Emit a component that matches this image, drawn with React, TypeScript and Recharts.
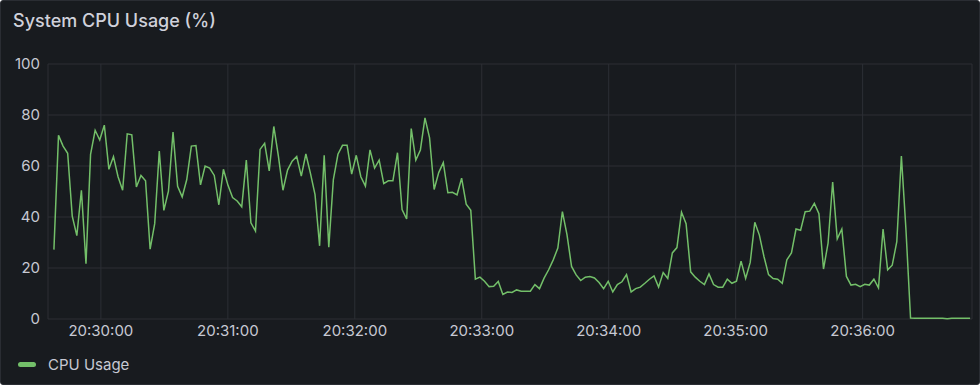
import { CartesianGrid, Line, LineChart, XAxis, YAxis } from 'recharts'

// sample times are seconds of day; first sample ~20:29:37.8, one every ~2.165s
const START = 73777.8
const STEP = 2.165

const cpuUsage = [
  27.2, 72, 67.8, 65, 40.3, 32.7, 50.5, 21.7, 64.6, 74,
  70.2, 76, 58.7, 63.7, 55.8, 50.5, 72.6, 72.2, 51.8, 56.3,
  54.2, 27.4, 37.4, 65.9, 42.6, 50.1, 73.3, 52, 47.9, 54.7,
  67.8, 68, 52.6, 60, 59.2, 56.3, 44.8, 58.7, 52.4, 47.6,
  46.3, 44, 62.3, 37.7, 34.5, 66.5, 68.9, 58.1, 75.5, 63.9,
  50.5, 58.4, 61.9, 63.7, 56, 64.7, 57.1, 48.8, 28.7, 64.2,
  28.2, 54.7, 64.6, 68.1, 68.1, 56.8, 64.2, 55.8, 52.1, 66.3,
  59.2, 62.3, 53.1, 54.2, 54.2, 65.2, 42.9, 39.2, 74.7, 62.3,
  66.3, 78.9, 71, 50.8, 57.4, 61.3, 49.5, 49.7, 48.7, 55.2,
  45, 42.6, 15.6, 16.4, 14.8, 12.7, 12.8, 14.7, 9.6, 10.6,
  10.4, 11.4, 10.9, 10.9, 10.9, 13.5, 11.9, 16, 19.3, 23.2,
  27.8, 42.1, 33.1, 20.6, 17.3, 15.1, 16.4, 16.7, 16.1, 14.3,
  11.9, 14.8, 10.6, 13.5, 14.6, 17.4, 10.6, 11.9, 12.5, 14,
  15.6, 16.9, 12.5, 18.2, 15.9, 25.9, 28, 41.9, 37.4, 18.5,
  16.4, 14.8, 13.5, 17.7, 13.5, 12.5, 12.5, 15.6, 14, 14.8,
  22.7, 15.9, 22.2, 37.9, 32.9, 24.5, 17.4, 15.9, 15.6, 14,
  23.2, 25.9, 35.3, 34.8, 42.1, 42.3, 45.3, 41.3, 19.6, 29.8,
  53.7, 31.4, 35.3, 16.7, 13.3, 13.6, 12.7, 13.6, 13.3, 15.6,
  12.2, 35.3, 19.3, 21.1, 30.3, 63.9, 35, 0.4, 0.3, 0.3,
  0.3, 0.3, 0.3, 0.3, 0.3, 0.1, 0.3, 0.3, 0.3, 0.3,
  0.3,
]

const xTickLabels = [
  '20:30:00', '20:31:00', '20:32:00', '20:33:00', '20:34:00', '20:35:00', '20:36:00',
]
const yTicks = [0, 20, 40, 60, 80, 100]

const toSec = (s: string) => {
  const [h, m, sec] = s.split(':').map(Number)
  return h * 3600 + m * 60 + sec
}
const pad = (n: number) => String(n).padStart(2, '0')
const fmtTime = (v: number) => {
  const t = Math.round(v)
  return `${pad(Math.floor(t / 3600))}:${pad(Math.floor((t % 3600) / 60))}:${pad(t % 60)}`
}

const data = cpuUsage.map((v, i) => ({ time: START + i * STEP, cpu: v }))
const xTicks = xTickLabels.map(toSec)

const FONT = 'Inter, "Noto Sans", sans-serif'
const TEXT = '#c7c9d3'

export default function App() {
  return (
    <div
      style={{
        position: 'fixed',
        left: 0,
        top: 0,
        width: 980,
        height: 385,
        background: '#181b1f',
        boxSizing: 'border-box',
        border: '1px solid #2a2d33',
        borderRadius: 3,
        fontFamily: FONT,
        overflow: 'hidden',
      }}
    >
      <div
        style={{
          position: 'absolute',
          left: 12,
          top: 9,
          fontSize: 18,
          fontWeight: 500,
          color: '#d0d1db',
        }}
      >
        System CPU Usage (%)
      </div>
      <div style={{ position: 'absolute', left: -1, top: -1 }}>
        <LineChart
          width={980}
          height={385}
          data={data}
          margin={{ top: 64, right: 8, left: 0, bottom: 36 }}
        >
          <CartesianGrid stroke="#2c2f35" strokeWidth={1} />
          <XAxis
            dataKey="time"
            type="number"
            domain={[73775, 74211.7]}
            ticks={xTicks}
            tickFormatter={fmtTime}
            axisLine={false}
            tickLine={false}
            tickSize={0}
            tickMargin={6}
            height={30}
            tick={{ fill: TEXT, fontSize: 15, fontFamily: FONT }}
          />
          <YAxis
            type="number"
            domain={[0, 100]}
            ticks={yTicks}
            axisLine={false}
            tickLine={false}
            tickSize={0}
            tickMargin={8}
            width={48}
            tick={{ fill: TEXT, fontSize: 15, fontFamily: FONT }}
          />
          <Line
            type="linear"
            dataKey="cpu"
            stroke="#73bf69"
            strokeWidth={1.5}
            dot={false}
            isAnimationActive={false}
          />
        </LineChart>
      </div>
      <div
        style={{
          position: 'absolute',
          left: 17,
          top: 354,
          display: 'flex',
          alignItems: 'center',
          fontSize: 15,
          color: TEXT,
        }}
      >
        <span
          style={{
            display: 'inline-block',
            width: 18,
            height: 5,
            borderRadius: 3,
            background: '#73bf69',
            marginRight: 12,
          }}
        />
        CPU Usage
      </div>
    </div>
  )
}
